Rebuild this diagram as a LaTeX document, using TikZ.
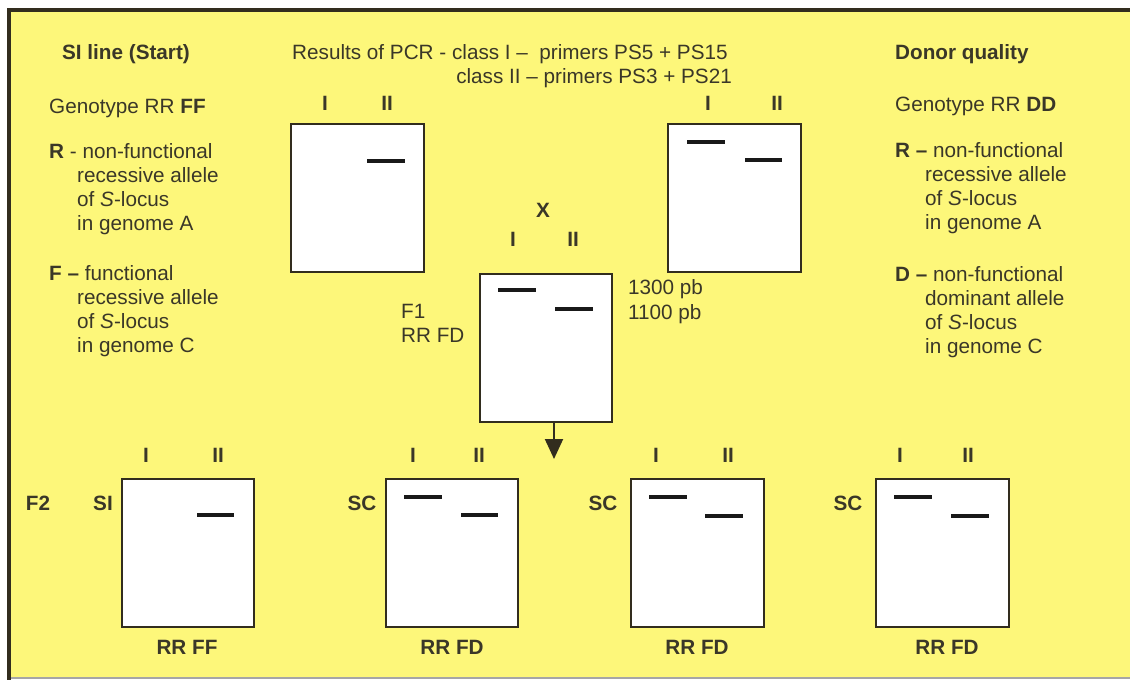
\documentclass[tikz,border=0pt]{standalone}
\usepackage{fontspec}
\setmainfont{Liberation Sans}
\usetikzlibrary{arrows.meta}
\definecolor{bgyel}{RGB}{253,247,122}
\definecolor{ink}{RGB}{58,55,40}
\definecolor{framec}{RGB}{50,45,30}
\begin{document}
\begin{tikzpicture}[x=1pt,y=-1pt,
  txt/.style={font=\fontsize{20.7}{24}\selectfont, text=ink, inner sep=0pt},
  bf/.style={font=\fontsize{20.7}{24}\selectfont\bfseries, text=ink, inner sep=0pt},
  gel/.style={draw=framec, line width=2.2pt, fill=white, minimum width=133pt, minimum height=148pt, inner sep=0pt, anchor=north west},
  band/.style={line width=3.8pt, draw=black!90},
  conn/.style={line width=2pt, draw=framec, -{Triangle[length=20pt,width=18pt]}}]
\useasboundingbox (0,0) rectangle (1130,680);
\fill[white] (0,0) rectangle (1130,680);
\fill[bgyel] (9,10) rectangle (1130,678);
\draw[framec, line width=4pt] (7,10) -- (1130,10);
\draw[framec, line width=4.5pt] (9,8) -- (9,680);
\draw[gray!70, line width=1.5pt] (11,678) -- (1130,678);

% ---- left column
\node[bf, anchor=base] (silin) at (126,59) {SI line (Start)};
\node[txt, anchor=base west] (genl) at (49,113) {Genotype RR \textbf{FF}};
\node[txt, anchor=base west] (rl1) at (49,158) {\textbf{R} - non-functional};
\node[txt, anchor=base west] (rl2) at (77,182) {recessive allele};
\node[txt, anchor=base west] (rl3) at (77,206) {of \textit{S}-locus};
\node[txt, anchor=base west] (rl4) at (77,230) {in genome A};
\node[txt, anchor=base west] (fl1) at (49,280) {\textbf{F –} functional};
\node[txt, anchor=base west] (fl2) at (77,304) {recessive allele};
\node[txt, anchor=base west] (fl3) at (77,328) {of \textit{S}-locus};
\node[txt, anchor=base west] (fl4) at (77,352) {in genome C};

% ---- right column
\node[bf, anchor=base west] (donor) at (895,59) {Donor quality};
\node[txt, anchor=base west] (genr) at (895,111) {Genotype RR \textbf{DD}};
\node[txt, anchor=base west] (rr1) at (895,157) {\textbf{R –} non-functional};
\node[txt, anchor=base west] (rr2) at (925,181) {recessive allele};
\node[txt, anchor=base west] (rr3) at (925,205) {of \textit{S}-locus};
\node[txt, anchor=base west] (rr4) at (925,229) {in genome A};
\node[txt, anchor=base west] (dr1) at (895,281) {\textbf{D –} non-functional};
\node[txt, anchor=base west] (dr2) at (925,305) {dominant allele};
\node[txt, anchor=base west] (dr3) at (925,329) {of \textit{S}-locus};
\node[txt, anchor=base west] (dr4) at (925,353) {in genome C};

% ---- title
\node[txt, anchor=base west] (res1) at (292,59) {Results of PCR - class I –\ \ primers PS5 + PS15};
\node[txt, anchor=base east] (res2) at (732,83) {class II – primers PS3 + PS21};

% ---- top gels
\node[gel] (ga) at (290,123) {};
\node[bf, anchor=base] (ga1) at (325,110) {I};
\node[bf, anchor=base] (ga2) at (387,110) {II};
\draw[band] (367,161) -- (405,161);

\node[gel] (gb) at (667,123) {};
\node[bf, anchor=base] (gb1) at (708,110) {I};
\node[bf, anchor=base] (gb2) at (777,110) {II};
\draw[band] (687,142) -- (725,142);
\draw[band] (745,160) -- (782,160);

% ---- F1
\node[bf, anchor=center] (cross) at (543,210) {X};
\node[gel, minimum width=132pt] (f1) at (479,273) {};
\node[bf, anchor=base] (f1a) at (513,246) {I};
\node[bf, anchor=base] (f1b) at (573,246) {II};
\draw[band] (498,290) -- (536,290);
\draw[band] (555,309) -- (593,309);
\node[txt, anchor=base west] (p13) at (628,294) {1300 pb};
\node[txt, anchor=base west] (p11) at (628,319) {1100 pb};
\node[txt, anchor=base west] (f1l) at (401,318) {F1};
\node[txt, anchor=base west] (f1g) at (401,342) {RR FD};
\coordinate (arrtip) at (554,459);
\draw[conn] (f1.south -| arrtip) -- (arrtip);

% ---- F2 row
\node[bf, anchor=base] (f2) at (38,510) {F2};

\node[gel, minimum width=132pt] (h1) at (121,478) {};
\node[bf, anchor=base] (h1l) at (103,510) {SI};
\node[bf, anchor=base] (h1a) at (146,462) {I};
\node[bf, anchor=base] (h1b) at (218,462) {II};
\draw[band] (197,515) -- (234,515);
\node[bf, anchor=base] (h1g) at (187,654) {RR FF};

\node[gel, minimum width=132pt] (h2) at (385,478) {};
\node[bf, anchor=base] (h2l) at (362,510) {SC};
\node[bf, anchor=base] (h2a) at (413,462) {I};
\node[bf, anchor=base] (h2b) at (479,462) {II};
\draw[band] (404,497) -- (442,497);
\draw[band] (461,515) -- (498,515);
\node[bf, anchor=base] (h2g) at (452,654) {RR FD};

\node[gel] (h3) at (630,478) {};
\node[bf, anchor=base] (h3l) at (603,510) {SC};
\node[bf, anchor=base] (h3a) at (656,462) {I};
\node[bf, anchor=base] (h3b) at (728,462) {II};
\draw[band] (649,497) -- (687,497);
\draw[band] (705,516) -- (743,516);
\node[bf, anchor=base] (h3g) at (697,654) {RR FD};

\node[gel] (h4) at (875,478) {};
\node[bf, anchor=base] (h4l) at (848,510) {SC};
\node[bf, anchor=base] (h4a) at (900,462) {I};
\node[bf, anchor=base] (h4b) at (968,462) {II};
\draw[band] (894,497) -- (932,497);
\draw[band] (951,516) -- (989,516);
\node[bf, anchor=base] (h4g) at (947,654) {RR FD};
\end{tikzpicture}
\end{document}
